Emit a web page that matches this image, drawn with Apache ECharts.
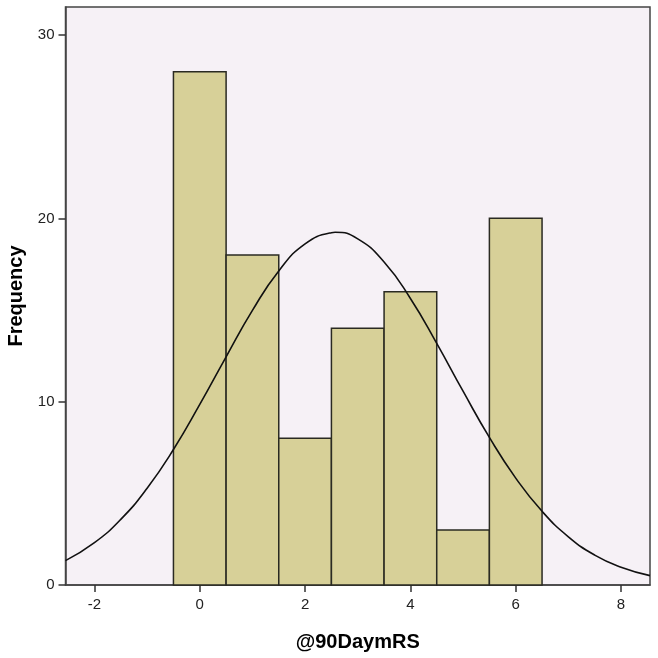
<!DOCTYPE html>
<html><head><meta charset="utf-8">
<script src="https://cdn.jsdelivr.net/npm/echarts@6/dist/echarts.min.js"></script>
<style>html,body{margin:0;padding:0;background:#fff}#c{width:658px;height:658px}</style>
</head><body><div id="c"></div>
<script>
// Histogram bins (bin centers, width 1)
const binCenters = [0, 1, 2, 3, 4, 5, 6];
const frequencies = [28, 18, 8, 14, 16, 3, 20];
// Normal curve points
const curveX = [-2.55, -2, -1.5, -1, -0.5, 0, 0.5, 1, 1.5, 2, 2.5, 2.57, 3, 3.5, 4, 4.5, 5, 5.5, 6, 6.5, 7, 7.5, 8, 8.55];
const curveY = [1.33, 2.31, 3.58, 5.28, 7.39, 9.85, 12.45, 14.98, 17.13, 18.61, 19.22, 19.24, 18.88, 17.62, 15.63, 13.18, 10.57, 8.05, 5.83, 4.02, 2.63, 1.63, 0.97, 0.51];
const xTicks = [-2, 0, 2, 4, 6, 8];
const binWidth = 1;

const chart = echarts.init(document.getElementById('c'), null, {renderer: 'canvas'});
const font = 'Liberation Sans, Arial, sans-serif';
chart.setOption({
  animation: false,
  grid: {left: 65.5, right: 8, top: 7, bottom: 73, show: true, backgroundColor: '#F6F1F6', borderColor: '#444', borderWidth: 1.5,
    outerBoundsMode: 'none', containLabel: false},
  xAxis: {
    type: 'value', min: -2.55, max: 8.55,
    name: '@90DaymRS', nameLocation: 'middle', nameGap: 47,
    nameTextStyle: {fontFamily: font, fontSize: 20, fontWeight: 'bold', color: '#000'},
    axisLine: {show: true, onZero: false, lineStyle: {color: '#444', width: 1.5}},
    axisTick: {show: true, length: 7, customValues: xTicks, lineStyle: {color: '#333', width: 1.5}},
    axisLabel: {customValues: xTicks, fontFamily: font, fontSize: 15, color: '#222', margin: 12},
    splitLine: {show: false}
  },
  yAxis: {
    type: 'value', min: 0, max: 31.53, interval: 10,
    name: 'Frequency', nameLocation: 'middle', nameGap: 39,
    nameTextStyle: {fontFamily: font, fontSize: 20, fontWeight: 'bold', color: '#000'},
    axisLine: {show: true, onZero: false, lineStyle: {color: '#444', width: 1.5}},
    axisTick: {show: true, length: 7, lineStyle: {color: '#333', width: 1.5}},
    axisLabel: {fontFamily: font, fontSize: 15, color: '#222', margin: 11, showMaxLabel: false,
      formatter: v => (v % 10 === 0 ? String(v) : '')},
    splitLine: {show: false}
  },
  series: [
    {
      type: 'custom',
      data: binCenters.map((c, i) => [c, frequencies[i]]),
      renderItem: function (params, api) {
        const c = api.value(0), f = api.value(1);
        const p1 = api.coord([c - binWidth / 2, f]);
        const p2 = api.coord([c + binWidth / 2, 0]);
        return {type: 'rect', shape: {x: p1[0], y: p1[1], width: p2[0] - p1[0], height: p2[1] - p1[1]},
          style: {fill: '#D7D098', stroke: '#2a2a22', lineWidth: 1.5}};
      },
      z: 2
    },
    {
      type: 'line', data: curveX.map((x, i) => [x, curveY[i]]), smooth: true, showSymbol: false,
      lineStyle: {color: '#111', width: 1.6}, z: 3
    }
  ]
});
</script></body></html>
